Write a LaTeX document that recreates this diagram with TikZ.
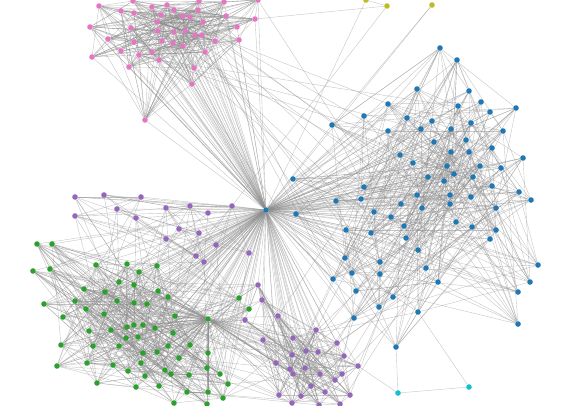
\documentclass[tikz,border=0pt]{standalone}
\usepackage{tikz}
\usetikzlibrary{backgrounds}
\definecolor{nwblue}{HTML}{1F77B4}
\definecolor{nwpink}{HTML}{E377C2}
\definecolor{nwgreen}{HTML}{2CA02C}
\definecolor{nwpurple}{HTML}{9467BD}
\definecolor{nwolive}{HTML}{BCBD22}
\definecolor{nwcyan}{HTML}{17BECF}
\definecolor{nwedge}{HTML}{8C8C8C}
\tikzset{
  dot/.style={circle,inner sep=0pt,minimum size=5.6pt,draw=none},
  bluedot/.style={dot,fill=nwblue},
  pinkdot/.style={dot,fill=nwpink},
  greendot/.style={dot,fill=nwgreen},
  purpdot/.style={dot,fill=nwpurple},
  olivedot/.style={dot,fill=nwolive},
  cyandot/.style={dot,fill=nwcyan},
  edge/.style={draw=nwedge,line width=0.4pt,opacity=0.5},
}
% node positions per community
\newcommand\pinkpos{99/6,133/1,167/5,199/1,224/2,258/0,152/7,121/11,134/13,161/15,174/10,183/16,190/17,198/10,226/16,255/19,90/27,131/28,157/22,203/22,237/27,158/31,174/32,185/31,195/35,202/35,108/39,134/42,162/41,173/43,183/46,215/41,239/40,121/51,152/52,139/55,205/52,92/57,159/60,129/67,194/68,192/84,145/120}
\newcommand\bluepos{440/48,457/60,417/89,469/91,481/102,490/112,516/108,388/104,364/116,332/125,458/106,407/118,432/121,471/123,421/129,451/129,388/131,503/131,466/140,434/142,492/148,451/152,469/152,400/155,523/158,413/163,447/166,480/166,501/168,454/174,428/177,473/177,444/181,364/187,492/186,417/195,450/195,471/197,519/192,531/200,336/201,361/199,401/204,450/204,422/208,496/208,374/212,391/217,456/222,472/227,496/230,346/230,371/233,404/226,406/238,490/239,293/179,296/214,333/279,352/273,380/274,356/291,393/297,379/307,354/318,396/347,418/250,426/268,438/282,418/312,538/265,530/282,518/292,518/324,345/258,380/262}
\newcommand\greenpos{37/244,52/244,33/271,50/269,44/304,96/265,127/264,157/266,139/272,84/289,119/282,134/285,105/292,158/291,168/297,75/301,117/301,134/303,147/304,86/309,104/314,63/317,175/316,208/319,239/298,249/309,127/327,134/325,143/325,155/328,111/330,89/331,173/333,126/338,138/337,61/345,93/346,119/346,168/346,190/345,143/353,157/352,179/358,208/353,57/366,87/363,113/365,141/363,165/370,171/374,128/371,189/375,207/368,220/374,97/383,145/376,159/386,136/387,187/392,208/392,228/384,223/398,174/403,207/404}
\newcommand\purppos{258/285,262/300,245/320,278/316,316/330,263/340,293/338,337/343,306/351,318/352,292/355,344/356,276/363,290/369,305/368,293/374,358/366,320/374,335/380,342/374,311/386,325/392,279/395,301/396,350/395,292/403,319/405,340/404}
\newcommand\lilacpos{75/197,104/195,141/197,75/216,117/209,136/218,166/208,190/206,208/213,232/206,179/229,199/233,166/239,216/245,249/253,196/256,204/262}

\begin{document}
\begin{tikzpicture}[x=1pt,y=-1pt]
\useasboundingbox (0,0) rectangle (572,405);
\pgfmathsetseed{11}

\node[bluedot] (hub) at (266,210) {};
\foreach \x/\y [count=\i] in \pinkpos {\node[pinkdot] (pk\i) at (\x,\y) {};}
\foreach \x/\y [count=\i] in \bluepos {\node[bluedot] (bl\i) at (\x,\y) {};}
\foreach \x/\y [count=\i] in \greenpos {\node[greendot] (gr\i) at (\x,\y) {};}
\foreach \x/\y [count=\i] in \purppos {\node[purpdot] (pu\i) at (\x,\y) {};}
\foreach \x/\y [count=\i] in \lilacpos {\node[purpdot] (li\i) at (\x,\y) {};}
\node[olivedot] (ol1) at (366,0) {};
\node[olivedot] (ol2) at (387,6) {};
\node[olivedot] (ol3) at (432,5) {};
\node[cyandot] (cy1) at (398,393) {};
\node[cyandot] (cy2) at (469,387) {};

\begin{scope}[on background layer]
% spokes from the hub
\foreach \i in {1,...,43} {\draw[edge] (hub) -- (pk\i);}
\foreach \i in {1,...,64} {\draw[edge] (hub) -- (gr\i);}
\foreach \i in {1,...,28} {\draw[edge] (hub) -- (pu\i);}
\foreach \i in {1,...,17} {\draw[edge] (hub) -- (li\i);}
\foreach \i in {1,...,76} {\draw[edge] (hub) -- (bl\i);}
\draw[edge] (hub) -- (ol1);
\draw[edge] (hub) -- (ol3);
% spokes from the green sub-hub
\foreach \i in {1,...,64} {\draw[edge] (gr24) -- (gr\i);}
\foreach \i in {1,...,28} {\draw[edge] (gr24) -- (pu\i);}
% inside the communities
\foreach \i in {1,...,43} {\foreach \k in {1,...,8} {
  \pgfmathrandominteger{\j}{1}{43}\draw[edge] (pk\i) -- (pk\j);}}
\foreach \i in {1,...,76} {\foreach \k in {1,...,5} {
  \pgfmathrandominteger{\j}{1}{76}\draw[edge] (bl\i) -- (bl\j);}}
\foreach \i in {1,...,64} {\foreach \k in {1,...,6} {
  \pgfmathrandominteger{\j}{1}{64}\draw[edge] (gr\i) -- (gr\j);}}
\foreach \i in {1,...,28} {\foreach \k in {1,...,6} {
  \pgfmathrandominteger{\j}{1}{28}\draw[edge] (pu\i) -- (pu\j);}}
\foreach \i in {1,...,17} {\foreach \k in {1,...,2} {
  \pgfmathrandominteger{\j}{1}{17}\draw[edge] (li\i) -- (li\j);}}
% between the communities
\foreach \k in {1,...,20} {
  \pgfmathrandominteger{\a}{1}{43}\pgfmathrandominteger{\b}{1}{76}
  \draw[edge] (pk\a) -- (bl\b);}
\foreach \k in {1,...,40} {
  \pgfmathrandominteger{\a}{1}{17}\pgfmathrandominteger{\b}{1}{64}
  \draw[edge] (li\a) -- (gr\b);}
\foreach \k in {1,...,30} {
  \pgfmathrandominteger{\a}{1}{64}\pgfmathrandominteger{\b}{1}{28}
  \draw[edge] (gr\a) -- (pu\b);}
\foreach \k in {1,...,20} {
  \pgfmathrandominteger{\a}{1}{28}\pgfmathrandominteger{\b}{1}{76}
  \draw[edge] (pu\a) -- (bl\b);}
\draw[edge] (ol1) -- (ol2);
\draw[edge] (ol2) -- (pk16);
\draw[edge] (ol3) -- (bl10);
\draw[edge] (ol2) -- (li10);
\draw[edge] (cy1) -- (cy2);
\draw[edge] (cy1) -- (bl66);
\draw[edge] (cy1) -- (pu17);
\draw[edge] (cy2) -- (bl70);
\end{scope}
\end{tikzpicture}
\end{document}
